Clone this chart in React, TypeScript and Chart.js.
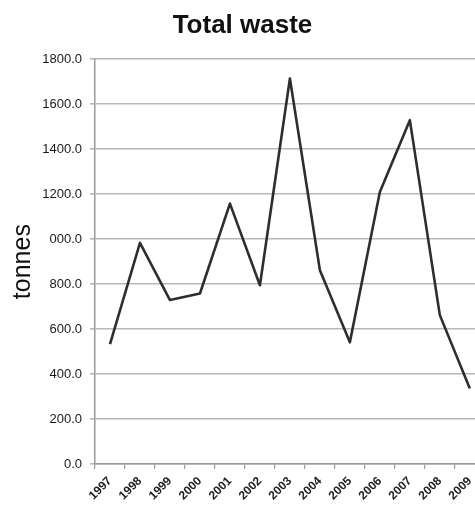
import React, { useEffect, useRef } from "react";
import { Chart, registerables } from "chart.js";

Chart.register(...registerables);

const years = ["1997", "1998", "1999", "2000", "2001", "2002", "2003", "2004", "2005", "2006", "2007", "2008", "2009"];
const totalWaste = [533, 983, 729, 758, 1158, 795, 1714, 862, 541, 1210, 1529, 662, 336];
const yTickValues = [0, 200, 400, 600, 800, 1000, 1200, 1400, 1600, 1800];
const yTickLabels = ["0.0", "200.0", "400.0", "600.0", "800.0", "000.0", "1200.0", "1400.0", "1600.0", "1800.0"];

export default function App() {
  const ref = useRef<HTMLCanvasElement | null>(null);

  useEffect(() => {
    if (!ref.current) return;
    const chart = new Chart(ref.current, {
      type: "line",
      data: {
        labels: years,
        datasets: [
          {
            data: totalWaste,
            borderColor: "#2e2e2e",
            borderWidth: 2.6,
            borderJoinStyle: "round",
            pointRadius: 0,
            tension: 0,
            fill: false,
          },
        ],
      },
      options: {
        animation: false,
        responsive: true,
        maintainAspectRatio: false,
        layout: { padding: { left: 0, right: 0, top: 0, bottom: 0 } },
        plugins: {
          legend: { display: false },
          tooltip: { enabled: false },
          title: {
            display: true,
            text: "Total waste",
            color: "#111",
            font: { family: "Liberation Sans, Arial, sans-serif", size: 26, weight: "bold", lineHeight: 1.2 },
            padding: { top: 10, bottom: 18 },
          },
        },
        scales: {
          x: {
            offset: true,
            grid: {
              offset: true,
              drawOnChartArea: false,
              drawTicks: true,
              tickLength: 5,
              color: "#9a9a9a",
              lineWidth: 1.2,
            },
            border: { color: "#9a9a9a", width: 1.5 },
            ticks: {
              minRotation: 45,
              maxRotation: 45,
              autoSkip: false,
              padding: 5,
              color: "#222",
              font: { family: "Liberation Sans, Arial, sans-serif", size: 12, weight: "bold" },
            },
            afterFit: (scale: any) => {
              scale.height = 42;
            },
          },
          y: {
            min: 0,
            max: 1800,
            afterBuildTicks: (scale: any) => {
              scale.ticks = yTickValues.map((v) => ({ value: v }));
            },
            grid: {
              color: "#b8b8b8",
              lineWidth: 1.6,
              drawTicks: true,
              tickLength: 5,
            },
            border: { color: "#9a9a9a", width: 1.5 },
            ticks: {
              padding: 8,
              color: "#1a1a1a",
              font: { family: "Liberation Sans, Arial, sans-serif", size: 13 },
              callback: (value: any) => {
                const i = yTickValues.indexOf(Number(value));
                return i >= 0 ? yTickLabels[i] : "";
              },
            },
            title: {
              display: true,
              text: "tonnes",
              color: "#111",
              font: { family: "Liberation Sans, Arial, sans-serif", size: 25, lineHeight: 1.2 },
              padding: { top: 8, bottom: 0 },
            },
            afterFit: (scale: any) => {
              scale.width = 95;
            },
          },
        },
      },
    });
    return () => chart.destroy();
  }, []);

  return (
    <div style={{ position: "fixed", left: 0, top: 0, width: 475, height: 506, overflow: "hidden", background: "#fff" }}>
      <div style={{ position: "relative", width: 485, height: 506 }}>
        <canvas ref={ref} />
      </div>
    </div>
  );
}
